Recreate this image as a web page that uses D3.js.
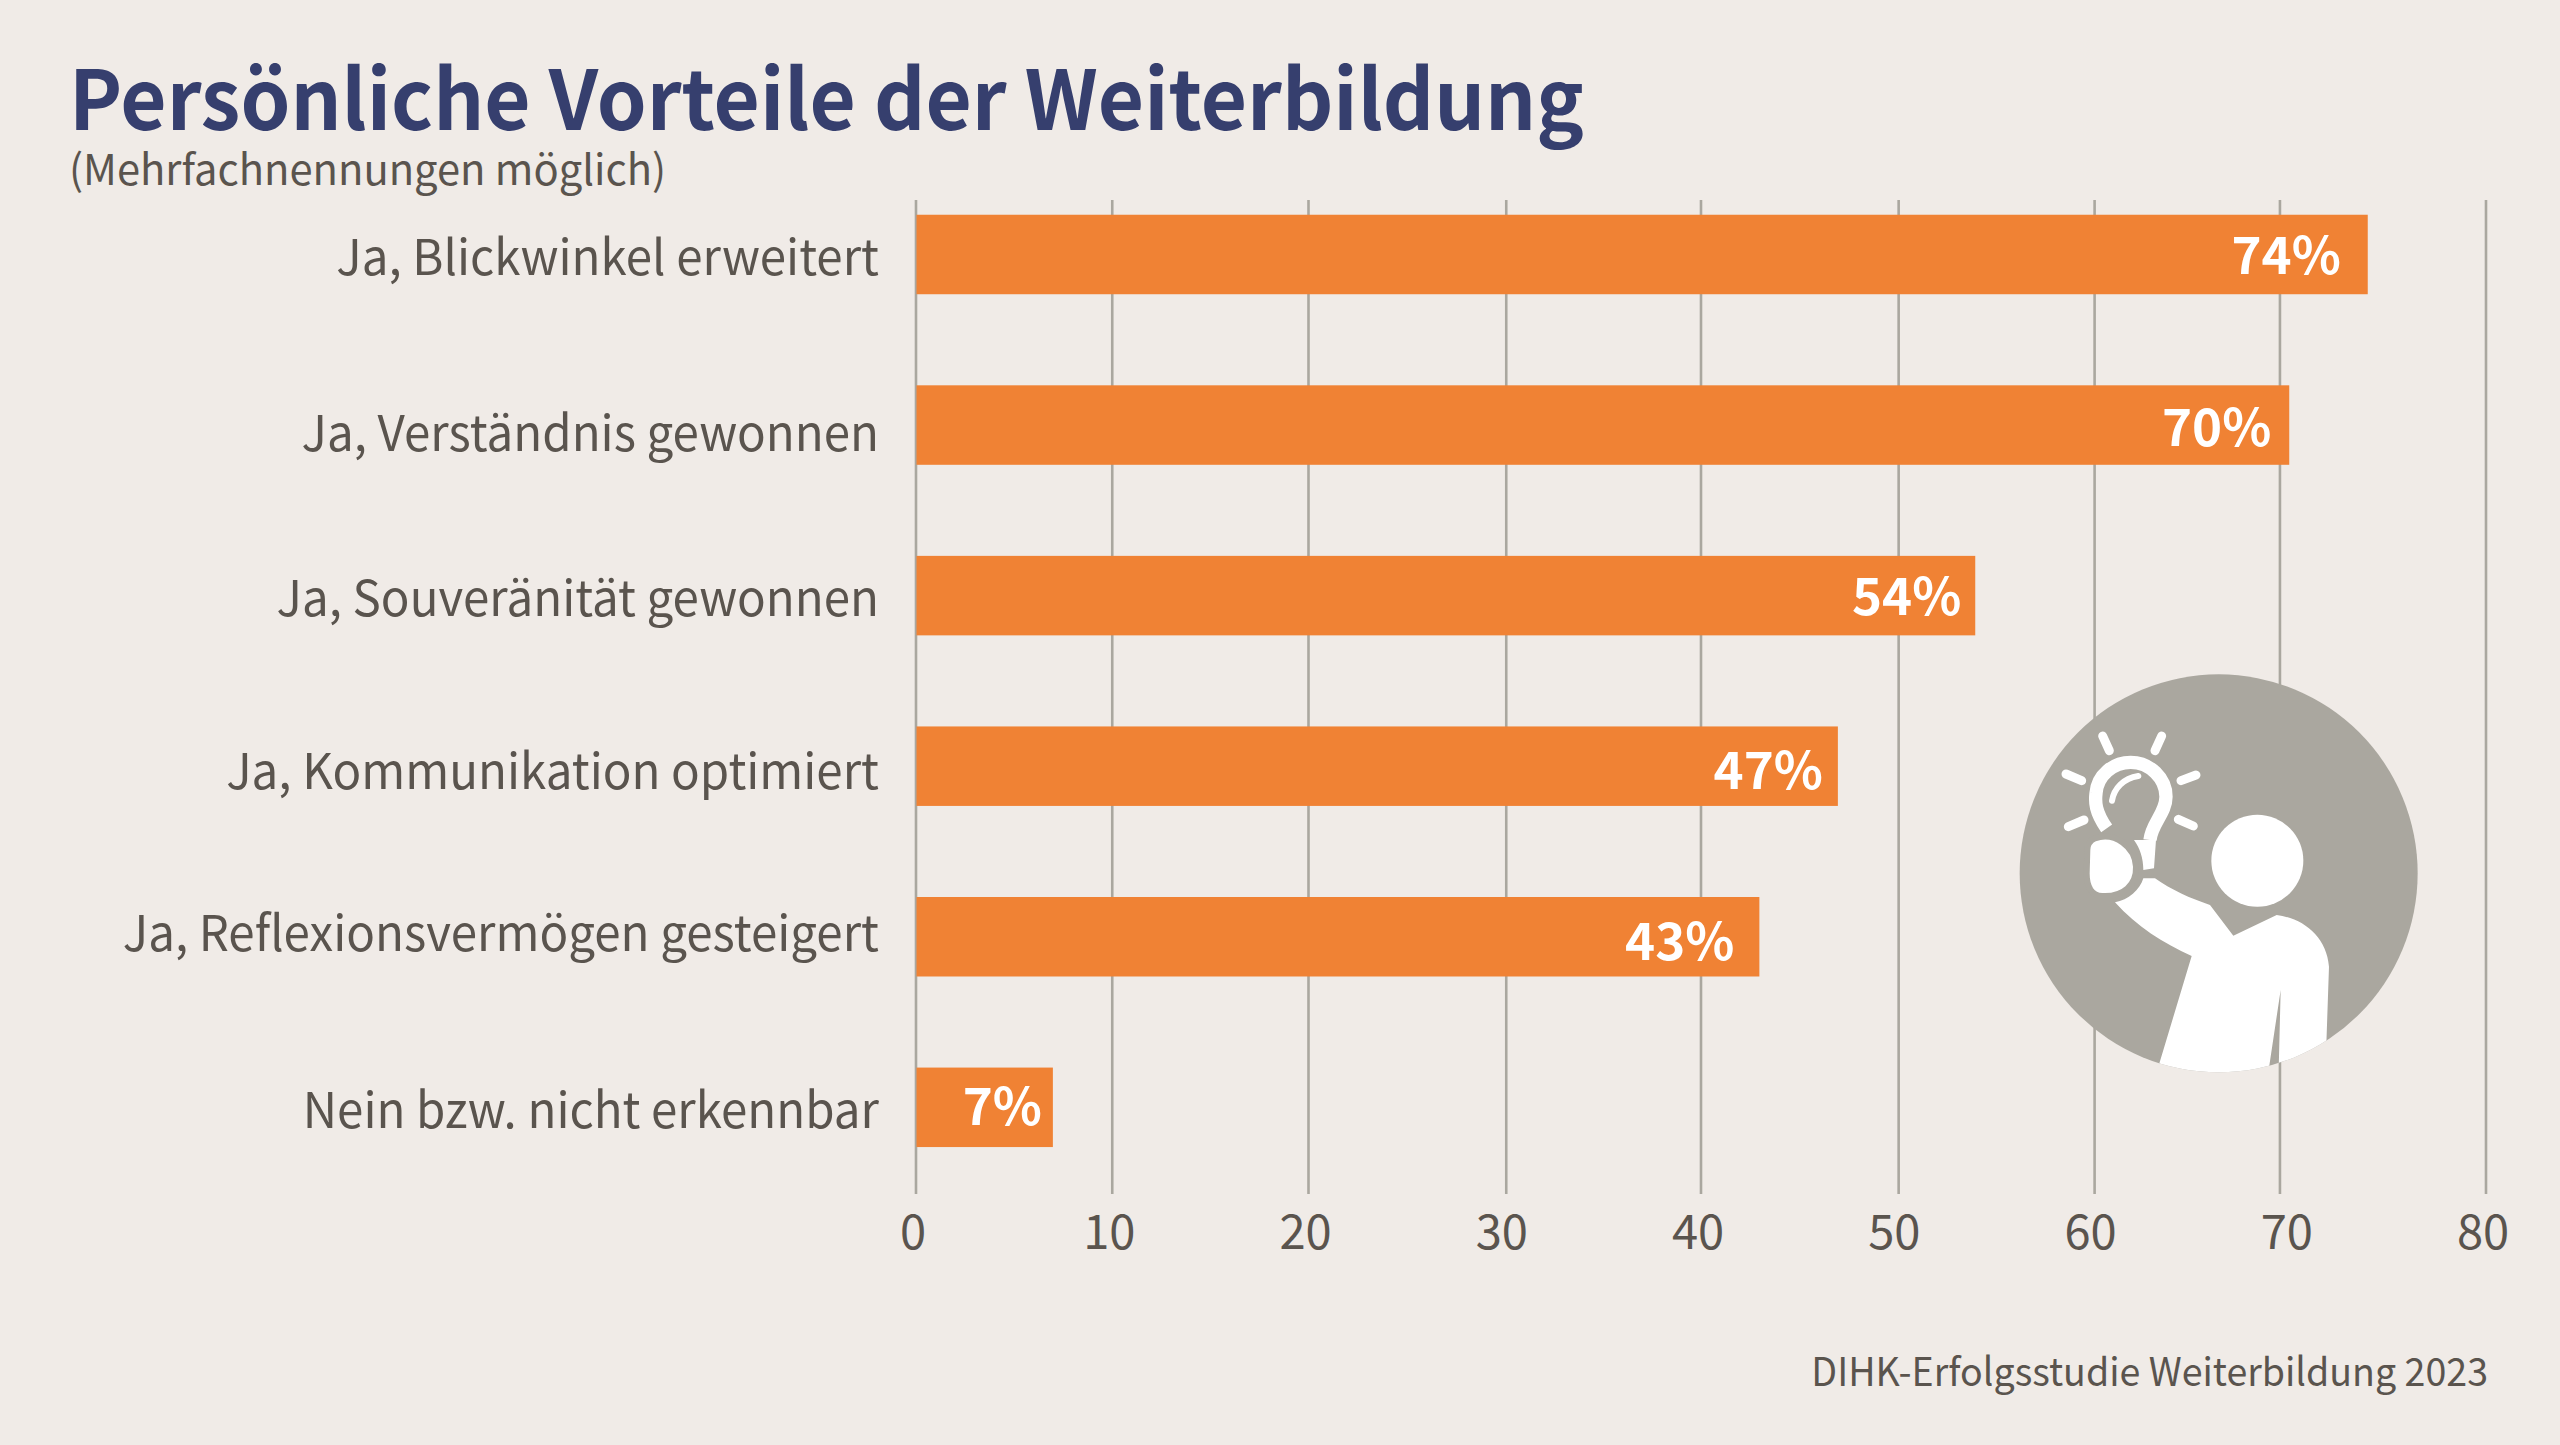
<!DOCTYPE html>
<html><head><meta charset="utf-8">
<script src="https://cdn.jsdelivr.net/npm/d3@7"></script>
<style>html,body{margin:0;padding:0;background:#f0ebe7;overflow:hidden}svg{display:block}text{font-family:"Noto Sans CJK SC","Noto Sans",sans-serif}</style>
</head><body><svg id="c" width="2560" height="1445"></svg>
<script>
const categories = ["Ja, Blickwinkel erweitert","Ja, Verständnis gewonnen","Ja, Souveränität gewonnen","Ja, Kommunikation optimiert","Ja, Reflexionsvermögen gesteigert","Nein bzw. nicht erkennbar"];
const values = [74,70,54,47,43,7];
const tickValues = [0,10,20,30,40,50,60,70,80];
const title = "Persönliche Vorteile der Weiterbildung";
const subtitle = "(Mehrfachnennungen möglich)";
const source = "DIHK-Erfolgsstudie Weiterbildung 2023";

// hand placement of the reference's texts relative to their bars
const catBaseline = [20.5,25.9,20.4,22.5,14.3,20.7];
const valBaseline = [20,21.1,19.2,22.6,23.6,18];
const valInset = [27,18,14,15,25,11];
const gridShift = {30:1.5,50:1.4,60:1.1,70:-9.8};

const svg = d3.select("#c");
const x = d3.scaleLinear().domain([0,80]).range([915.5,2485.5]);
const y = d3.scaleBand().domain(categories).range([169.2,1192.6]).paddingInner(0.534).paddingOuter(0.267);
const grey="#5a544e", gridC="#aaa79f";
const squeeze = (sel,k)=>sel.each(function(){ this.setAttribute("textLength",this.getComputedTextLength()*k); this.setAttribute("lengthAdjust","spacingAndGlyphs"); });

svg.append("text").attr("x",69).attr("y",130).attr("font-size",83).attr("font-weight",700).attr("fill","#363f6e").text(title)
  .attr("textLength",1515).attr("lengthAdjust","spacingAndGlyphs");
svg.append("text").attr("x",69).attr("y",185).attr("font-size",42).attr("fill",grey).text(subtitle).call(squeeze,0.992);

const axis = d3.axisBottom(x).tickValues(tickValues).tickSize(994).tickPadding(21).tickFormat(d3.format("d"));
const gAxis = svg.append("g").attr("transform","translate(0,200)").call(axis);
gAxis.select(".domain").remove();
gAxis.selectAll("line").attr("stroke",gridC).attr("stroke-width",2.6).attr("x1",d=>gridShift[d]||0).attr("x2",d=>gridShift[d]||0);
gAxis.selectAll("text").attr("font-size",48).attr("fill",grey).attr("font-family",'"Noto Sans CJK SC"').attr("x",-3).call(squeeze,0.98);

svg.selectAll("rect.bar").data(values).join("rect").attr("class","bar")
  .attr("x",x(0)+1).attr("y",(d,i)=>y(categories[i])).attr("width",d=>x(d)-x(0)-1).attr("height",y.bandwidth()).attr("fill","#f08234");

const mid = c => y(c)+y.bandwidth()/2;
svg.selectAll("text.cat").data(categories).join("text").attr("class","cat")
  .attr("x",879).attr("y",(d,i)=>mid(d)+catBaseline[i]).attr("text-anchor","end").attr("font-size",49).attr("fill",grey).text(d=>d).call(squeeze,0.969);

svg.selectAll("text.val").data(values).join("text").attr("class","val")
  .attr("x",(d,i)=>x(d)-valInset[i]).attr("y",(d,i)=>mid(categories[i])+valBaseline[i]).attr("text-anchor","end")
  .attr("font-size",51).attr("font-weight",700).attr("fill","#fff").text(d=>d+"%");

svg.append("text").attr("x",2488).attr("y",1386).attr("text-anchor","end").attr("font-size",39).attr("fill",grey).text(source).call(squeeze,0.963);

// decorative icon (zoom-crop coordinates / 3)
const icon = svg.append("g").attr("transform","translate(1980,650) scale(0.33333)");
const defs = svg.append("defs");
defs.append("clipPath").attr("id","cc").append("circle").attr("cx",716).attr("cy",670).attr("r",597);
icon.append("circle").attr("cx",716).attr("cy",670).attr("r",597).attr("fill",gridC);
const w = icon.append("g").attr("clip-path","url(#cc)");
w.append("circle").attr("cx",832).attr("cy",632).attr("r",138).attr("fill","#fff");
w.append("path").attr("fill","#fff").attr("d","M405,757 C445,750 480,720 490,685 L525,685 C575,720 630,745 690,765 L760,857 L890,795 C970,805 1040,860 1047,950 L1035,1300 L895,1300 L902,1020 L860,1300 L520,1300 L635,918 C550,880 470,830 405,757 Z");
w.append("path").attr("fill","#fff").attr("stroke",gridC).attr("stroke-width",18).attr("d","M345,565 C405,545 465,590 468,650 C470,705 430,740 370,738 C335,740 320,710 320,670 L322,600 C322,585 330,572 345,565 Z");
w.append("path").attr("fill","none").attr("stroke","#fff").attr("stroke-width",40).attr("d","M380,535 C345,485 345,455 348,430 C352,375 400,337 452,337 C510,337 558,385 558,440 C558,490 515,520 510,570");
w.append("path").attr("fill","#fff").attr("d","M462,570 L528,570 L522,655 L490,660 C490,625 480,595 462,570 Z");
w.append("path").attr("fill","none").attr("stroke","#fff").attr("stroke-width",18).attr("stroke-linecap","round").attr("d","M396,452 C402,415 430,385 475,378");
[[368,258,388,302],[545,258,525,302],[258,372,305,392],[648,375,603,392],[265,530,312,510],[640,528,595,508]].forEach(r=>{
  w.append("line").attr("x1",r[0]).attr("y1",r[1]).attr("x2",r[2]).attr("y2",r[3]).attr("stroke","#fff").attr("stroke-width",27).attr("stroke-linecap","round");
});
</script></body></html>
